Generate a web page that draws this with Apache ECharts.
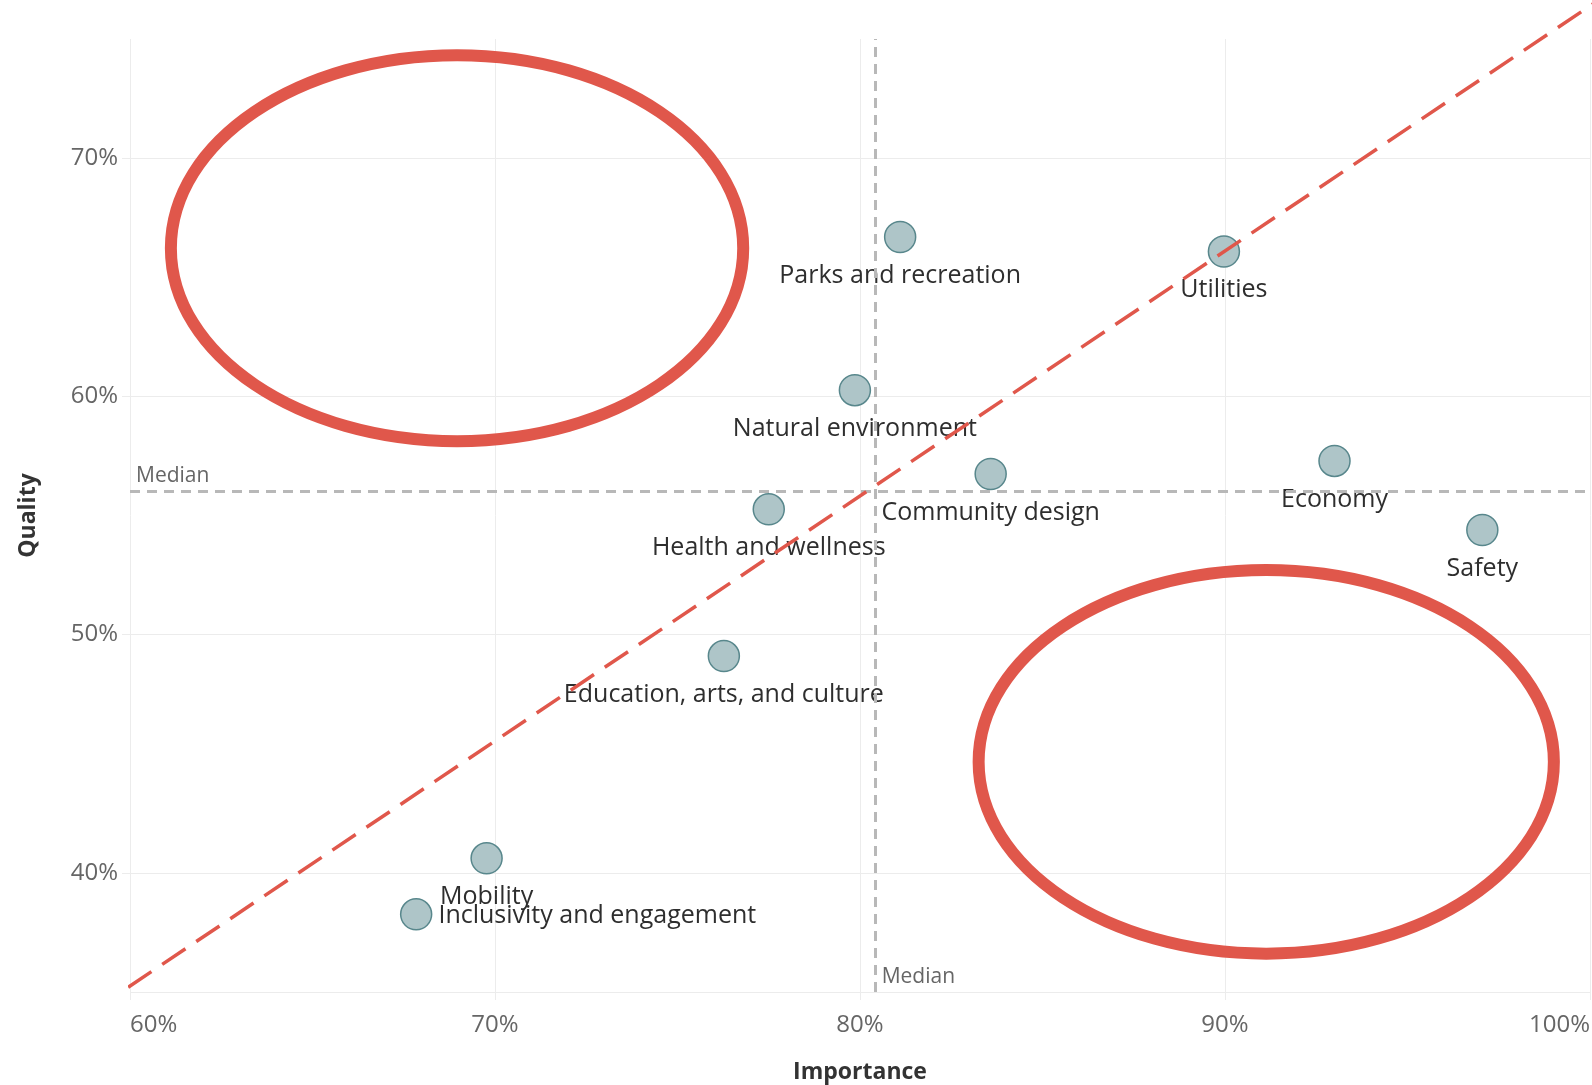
<!DOCTYPE html>
<html>
<head>
<meta charset="utf-8">
<script src="https://cdn.jsdelivr.net/npm/echarts@6/dist/echarts.min.js"></script>
<style>
  html, body { margin: 0; padding: 0; background: #fff; }
  #chart { width: 1592px; height: 1085px; }
</style>
</head>
<body>
<div id="chart"></div>
<script>
// importance vs quality, values in %
const names = [
  "Parks and recreation",
  "Utilities",
  "Natural environment",
  "Community design",
  "Economy",
  "Health and wellness",
  "Safety",
  "Education, arts, and culture",
  "Mobility",
  "Inclusivity and engagement",
]
const importance = [81.1, 89.97, 79.86, 83.58, 93.0, 77.5, 97.05, 76.27, 69.77, 67.84]
const quality = [66.69, 66.08, 60.26, 56.74, 57.29, 55.26, 54.39, 49.1, 40.61, 38.26]

const medianImportance = 80.43
const medianQuality = 56.03

// red dashed reference line (start, end)
const refLine = [[59.95, 35.2], [100.5, 76.9]]

// red highlight ellipses: [centerX, centerY, radiusX, radiusY] in data units
const ellipses = [
  [68.96, 66.22, 7.84, 8.1],
  [91.13, 44.66, 7.88, 8.05],
]

const xTicks = [60, 70, 80, 90, 100]

const FONT = "'Open Sans', 'Noto Sans', sans-serif"
const RED = "#e0574b"

const chart = echarts.init(document.getElementById("chart"))

const option = {
  backgroundColor: "#fff",
  animation: false,
  grid: {
    left: 130,
    right: 2,
    top: 39,
    bottom: 93,
    outerBoundsMode: "none",
  },
  xAxis: {
    type: "value",
    min: xTicks[0],
    max: xTicks[xTicks.length - 1],
    interval: 10,
    name: "Importance",
    nameLocation: "middle",
    nameGap: 69,
    nameTextStyle: {
      fontFamily: FONT,
      fontSize: 23,
      fontWeight: "bold",
      color: "#333",
    },
    axisLine: { show: false },
    axisTick: {
      show: true,
      length: 8,
      lineStyle: { color: "#ececec" },
    },
    axisLabel: {
      margin: 21,
      fontFamily: FONT,
      fontSize: 24,
      color: "#666",
      alignMinLabel: "left",
      alignMaxLabel: "right",
      formatter: (v) => v + "%",
    },
    splitLine: {
      lineStyle: { color: "#ececec", width: 1 },
    },
  },
  yAxis: {
    type: "value",
    min: 35,
    max: 75,
    name: "Quality",
    nameLocation: "middle",
    nameGap: 90,
    nameTextStyle: {
      fontFamily: FONT,
      fontSize: 23,
      fontWeight: "bold",
      color: "#333",
    },
    axisLine: { show: false },
    axisTick: {
      show: true,
      length: 8,
      lineStyle: { color: "#ececec" },
    },
    axisLabel: {
      margin: 12,
      fontFamily: FONT,
      fontSize: 24,
      color: "#666",
      showMinLabel: false,
      showMaxLabel: false,
      formatter: (v) => (v % 10 === 0 ? v + "%" : ""),
    },
    splitLine: {
      showMaxLine: false,
      lineStyle: { color: "#ececec", width: 1 },
    },
  },
  series: [
    {
      type: "custom",
      name: "highlight",
      z: 3,
      silent: true,
      data: ellipses,
      encode: { x: 0, y: 1 },
      renderItem: (params, api) => {
        const c = api.coord([api.value(0), api.value(1)])
        const s = api.size([api.value(2), api.value(3)])
        return {
          type: "ellipse",
          shape: { cx: c[0], cy: c[1], rx: s[0], ry: s[1] },
          style: { fill: null, stroke: RED, lineWidth: 12 },
        }
      },
    },
    {
      type: "scatter",
      name: "areas",
      z: 4,
      symbolSize: 31,
      itemStyle: {
        color: "#aec5c8",
        borderColor: "#58878c",
        borderWidth: 1.5,
        opacity: 1,
      },
      data: names.map((n, i) => ({
        name: n,
        value: [importance[i], quality[i]],
        label: i === names.length - 1 ? { position: "right", distance: 6, offset: [0, 2] } : undefined,
      })),
      label: {
        show: true,
        position: "bottom",
        distance: 10,
        formatter: (p) => p.name,
        fontFamily: FONT,
        fontSize: 25,
        color: "#2e2e2e",
      },
      markLine: {
        silent: true,
        symbol: "none",
        animation: false,
        label: { show: false },
        lineStyle: {
          color: "#b8b8b8",
          width: 3,
          type: [10, 7],
        },
        data: [{ xAxis: medianImportance }, { yAxis: medianQuality }],
      },
      markPoint: {
        silent: true,
        symbol: "circle",
        symbolSize: 0,
        label: {
          show: true,
          formatter: "Median",
          position: [6, -4],
          align: "left",
          verticalAlign: "bottom",
          fontFamily: FONT,
          fontSize: 21,
          color: "#666",
        },
        data: [
          { coord: [xTicks[0], medianQuality] },
          { coord: [medianImportance, 35] },
        ],
      },
    },
    {
      type: "line",
      name: "reference",
      z: 5,
      clip: false,
      silent: true,
      symbol: "none",
      data: refLine,
      lineStyle: {
        color: RED,
        width: 3.5,
        type: [28, 13],
      },
    },
  ],
}

chart.setOption(option)

window.addEventListener("resize", () => chart.resize())
</script>
</body>
</html>
